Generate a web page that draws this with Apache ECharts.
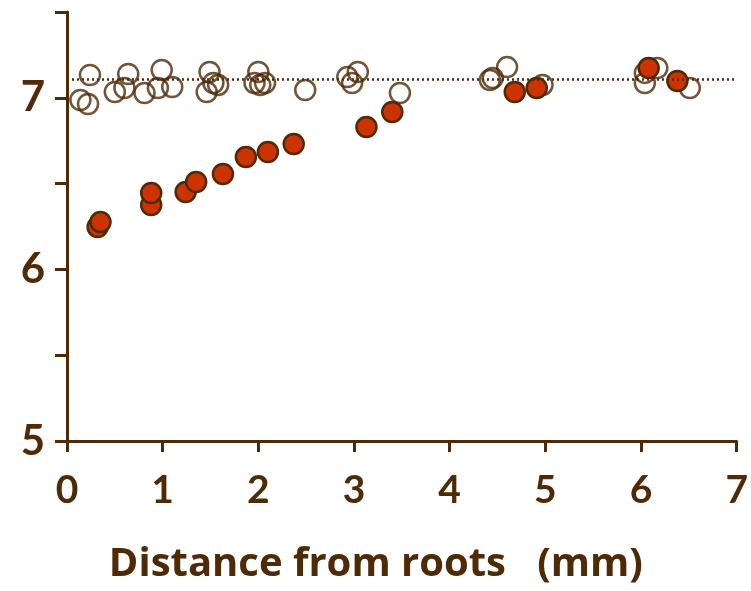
<!DOCTYPE html>
<html>
<head>
<meta charset="utf-8">
<script src="https://cdn.jsdelivr.net/npm/echarts@6/dist/echarts.min.js"></script>
<style>
  html, body { margin: 0; padding: 0; background: #fff; }
  #chart { width: 751px; height: 591px; }
</style>
</head>
<body>
<div id="chart"></div>
<script>
// filled circles: [distance (mm), value]
const filledPoints = [
  [0.32, 6.247], [0.35, 6.276], [0.88, 6.375], [0.88, 6.445],
  [1.24, 6.451], [1.35, 6.509], [1.63, 6.556], [1.87, 6.655],
  [2.10, 6.684], [2.37, 6.731], [3.13, 6.830], [3.40, 6.917],
  [4.68, 7.034], [4.91, 7.057], [6.08, 7.174], [6.38, 7.098]
]

// open circles
const openPoints = [
  [0.24, 7.133], [0.14, 6.987], [0.22, 6.964], [0.50, 7.034],
  [0.60, 7.057], [0.64, 7.139], [0.81, 7.028], [0.99, 7.162],
  [0.95, 7.057], [1.10, 7.063], [1.46, 7.034], [1.49, 7.150],
  [1.53, 7.086], [1.58, 7.075], [2.00, 7.150], [1.96, 7.086],
  [2.02, 7.075], [2.07, 7.086], [2.49, 7.045], [2.93, 7.121],
  [3.04, 7.150], [2.98, 7.086], [3.48, 7.028], [4.42, 7.104],
  [4.45, 7.115], [4.60, 7.179], [4.97, 7.075], [6.04, 7.145],
  [6.17, 7.174], [6.04, 7.086], [6.51, 7.057]
]

const refLevel = 7.11
const xLabel = 'Distance from roots   (mm)'

const brown = '#4f2a07'
const red = '#cc3300'
const font = 'Lato, "Open Sans", sans-serif'

const chart = echarts.init(document.getElementById('chart'))

const option = {
  animation: false,
  grid: { left: 67, right: 14, top: 12, bottom: 150 },
  xAxis: {
    type: 'value',
    min: 0,
    max: 7,
    interval: 1,
    name: xLabel,
    nameLocation: 'middle',
    nameGap: 104,
    nameTextStyle: {
      color: brown, fontFamily: '"Open Sans", sans-serif', fontWeight: 'bold', fontSize: 40,
      padding: [0, 52, 0, 0]
    },
    axisLine: { onZero: false, lineStyle: { color: brown, width: 3 } },
    axisTick: { inside: false, length: 11, lineStyle: { color: brown, width: 3 } },
    axisLabel: {
      color: brown, fontFamily: font, fontWeight: 'bold', fontSize: 39, margin: 30
    },
    splitLine: { show: false }
  },
  yAxis: {
    type: 'value',
    min: 5,
    max: 7.5,
    interval: 0.5,
    axisLine: { onZero: false, lineStyle: { color: brown, width: 3 } },
    axisTick: { length: 12, lineStyle: { color: brown, width: 3 } },
    axisLabel: {
      color: brown, fontFamily: font, fontWeight: 'bold', fontSize: 42, margin: 22,
      padding: [12, 0, 0, 0],
      formatter: v => (Number.isInteger(v) ? String(v) : '')
    },
    splitLine: { show: false }
  },
  series: [
    {
      type: 'scatter',
      data: openPoints,
      symbolSize: 20,
      itemStyle: { color: 'rgba(255,255,255,0)', borderColor: brown, borderWidth: 2.5 },
      markLine: {
        silent: true,
        symbol: 'none',
        label: { show: false },
        lineStyle: { color: brown, type: [2, 3], width: 2.5 },
        data: [{ yAxis: refLevel }]
      }
    },
    {
      type: 'scatter',
      data: filledPoints,
      symbolSize: 20,
      itemStyle: { color: red, borderColor: brown, borderWidth: 2.5, opacity: 1 }
    }
  ]
}

chart.setOption(option)
</script>
</body>
</html>
